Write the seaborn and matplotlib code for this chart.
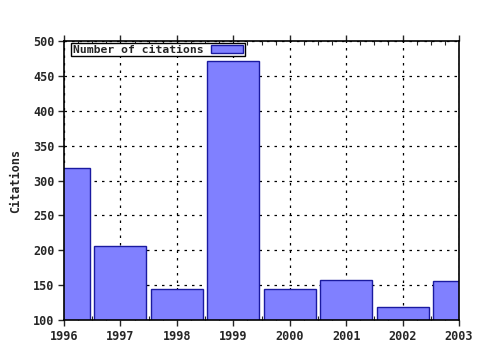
import matplotlib
matplotlib.use("Agg")
import matplotlib.pyplot as plt
import seaborn as sns
import pandas as pd
from matplotlib.ticker import MultipleLocator

years = [1996, 1997, 1998, 1999, 2000, 2001, 2002, 2003]
citations = [318, 206, 145, 471, 145, 157, 119, 156]
series_name = "Number of citations"

sns.set_style("white")
plt.rcParams['font.family'] = ['DejaVu Sans Mono']
plt.rcParams['font.weight'] = 'bold'

df = pd.DataFrame({"year": years, "citations": citations})

fig = plt.figure(figsize=(4.8, 3.5), dpi=100)
ax = fig.add_axes([64/480, 30/350, (459-64)/480, (320-41)/350])
sns.barplot(data=df, x="year", y="citations", native_scale=True, width=0.92,
            color="#8080ff", saturation=1, edgecolor="#1a1aa0", linewidth=1,
            label=series_name, ax=ax, zorder=2)

ax.set_xlim(1996, 2003)
ax.set_ylim(100, 500)
ax.xaxis.set_major_locator(MultipleLocator(1))
ax.xaxis.set_minor_locator(MultipleLocator(0.25))
ax.yaxis.set_major_locator(MultipleLocator(50))
ax.xaxis.set_major_formatter(matplotlib.ticker.FuncFormatter(lambda v, p: f"{int(round(v))}"))

ax.grid(True, which="major", color="black", linestyle=(0, (2, 4)), linewidth=0.9, zorder=1)
ax.set_axisbelow(True)
for s in ax.spines.values():
    s.set_color("black")
    s.set_linewidth(1.2)

ax.tick_params(axis="x", which="major", direction="out", length=4, width=1,
               top=True, bottom=True, labelsize=8.5, pad=3)
ax.tick_params(axis="x", which="minor", direction="in", length=3, width=0.8,
               top=True, bottom=True)
ax.tick_params(axis="y", which="major", direction="out", length=4, width=1,
               left=True, right=False, labelsize=8.5, pad=3)

ax.set_xlabel("")
ax.set_ylabel("Citations", fontsize=8.5, fontweight="bold", labelpad=8)

leg = ax.legend(loc="upper left", bbox_to_anchor=(7/395, 1 - 2/279),
                markerfirst=False, fontsize=8.2, frameon=True,
                fancybox=False, borderaxespad=0, borderpad=0.15,
                handlelength=2.8, handleheight=0.7, handletextpad=0.7)
leg.get_frame().set_edgecolor("black")
leg.get_frame().set_linewidth(1)
leg.get_frame().set_alpha(1)

fig.savefig("out.png", dpi=100)
